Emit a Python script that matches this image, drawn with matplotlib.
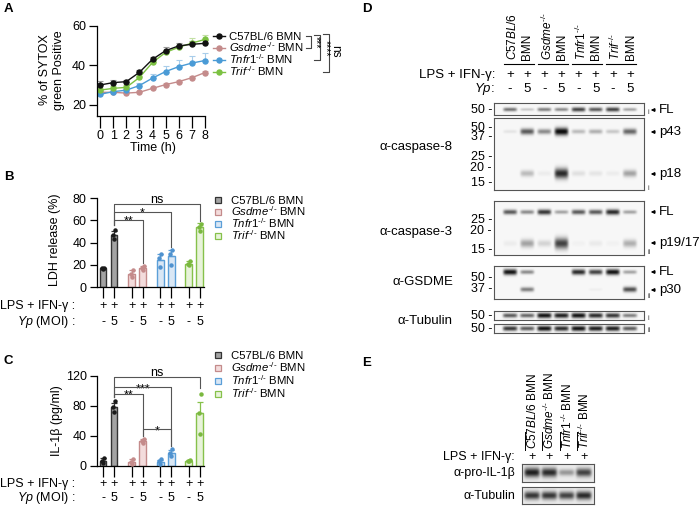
import numpy as np
import matplotlib
matplotlib.use('Agg')
import matplotlib.pyplot as plt
from matplotlib.lines import Line2D
from matplotlib.patches import Rectangle
import matplotlib.transforms as mtransforms

plt.rcParams['font.family'] = ['Liberation Sans', 'DejaVu Sans']
plt.rcParams['mathtext.fontset'] = 'custom'
plt.rcParams['mathtext.rm'] = 'Liberation Sans'
plt.rcParams['mathtext.it'] = 'Liberation Sans:italic'
plt.rcParams['mathtext.bf'] = 'Liberation Sans:bold'
plt.rcParams['axes.linewidth'] = 0.9

# ---------------- data ----------------
KO = r"^{\text{-/-}}"
genotypes = ["C57BL/6 BMN", r"$\mathit{Gsdme}" + KO + r"$ BMN",
             r"$\mathit{Tnfr1}" + KO + r"$ BMN", r"$\mathit{Trif}" + KO + r"$ BMN"]

# Panel A: SYTOX green positive (%)
time_h = [0, 1, 2, 3, 4, 5, 6, 7, 8]
sytox_c57 = [30.1, 31.3, 31.8, 36.5, 43.1, 47.5, 49.9, 50.7, 51.2]
sytox_gsdme = [26.4, 26.4, 26.0, 26.4, 28.4, 30.3, 31.8, 33.8, 36.4]
sytox_tnfr1 = [25.4, 26.7, 27.5, 29.8, 33.6, 36.9, 39.4, 41.2, 42.5]
sytox_trif = [27.5, 28.4, 28.9, 33.9, 41.5, 46.6, 49.2, 51.3, 53.2]
sytox_c57_err = [1.8, 1.2, 1.0, 1.0, 1.0, 1.6, 1.5, 1.8, 1.6]
sytox_gsdme_err = [0.6, 0.6, 0.6, 0.6, 0.8, 0.8, 0.8, 0.9, 1.0]
sytox_tnfr1_err = [0.8, 0.8, 0.8, 1.5, 2.2, 3.0, 3.4, 3.6, 4.0]
sytox_trif_err = [1.0, 1.0, 1.0, 1.0, 1.2, 1.4, 1.4, 2.4, 2.2]

# Panels B/C: conditions
lps_ifng = ["+", "+", "+", "+", "+", "+", "+", "+"]
yp_moi = ["-", "5", "-", "5", "-", "5", "-", "5"]

ldh_mean = [16.8, 47.0, 12.0, 17.0, 24.6, 27.6, 21.0, 53.6]
ldh_err = [0.5, 3.5, 3.5, 2.0, 5.0, 5.5, 2.5, 4.0]
ldh_pts = [[16.5, 17.0, 17.3], [43, 47, 51], [9, 12, 15], [15, 17, 19],
           [18, 26, 30], [20, 30, 33], [20, 21, 23], [50, 54, 57]]

il1b_mean = [6.2, 78.0, 5.4, 33.0, 5.4, 17.4, 6.7, 70.0]
il1b_err = [4.0, 6.0, 3.5, 3.0, 3.0, 4.5, 1.5, 15.0]
il1b_pts = [[4, 6, 10], [72, 78, 86], [3, 5, 9], [30, 33, 36],
            [3, 6, 9], [13, 17, 22], [6, 7, 8], [43, 70, 96]]

# Panel D: band intensities (0..1) per lane
casp8_fl = [0.55, 0.2, 0.5, 0.45, 0.75, 0.65, 0.75, 0.35]
casp8_p43 = [0.08, 0.65, 0.45, 1.0, 0.25, 0.3, 0.2, 0.6]
casp8_p18 = [0.0, 0.25, 0.05, 0.85, 0.1, 0.08, 0.05, 0.35]
casp3_fl = [0.65, 0.45, 0.8, 0.35, 0.65, 0.65, 0.85, 0.35]
casp3_p19 = [0.05, 0.35, 0.15, 0.75, 0.03, 0.06, 0.03, 0.3]
gsdme_fl = [0.95, 0.45, 0.0, 0.0, 0.85, 0.75, 0.95, 0.35]
gsdme_p30 = [0.0, 0.5, 0.0, 0.0, 0.0, 0.04, 0.0, 0.7]
tubulin_i = [0.65, 0.6, 0.95, 0.9, 0.95, 0.85, 0.8, 0.5]
tubulin_ii = [0.8, 0.65, 0.95, 0.85, 0.95, 0.9, 0.9, 0.65]
# Panel E
il1b_pro = [0.85, 0.8, 0.35, 0.7]
tubulin_e = [0.75, 0.75, 0.7, 0.8]

# ---------------- figure helpers ----------------
W, H = 700, 507
fig = plt.figure(figsize=(7, 5.07), dpi=100)
fig.patch.set_facecolor('white')


def fx(x):
    return x / W


def fy(y):
    return 1 - y / H


def add_ax(l, t, r, b):
    return fig.add_axes([l / W, 1 - b / H, (r - l) / W, (b - t) / H])


def ftext(x, y, s, **kw):
    return fig.text(fx(x), fy(y), s, **kw)


def fline(xs, ys, **kw):
    kw.setdefault('color', 'k')
    kw.setdefault('lw', 0.8)
    fig.add_artist(Line2D([fx(v) for v in xs], [fy(v) for v in ys],
                          transform=fig.transFigure, **kw))


def farrow(x_head, x_tail, y):
    fig.add_artist(matplotlib.patches.FancyArrowPatch(
        (fx(x_tail), fy(y)), (fx(x_head), fy(y)), transform=fig.transFigure,
        arrowstyle='-|>', mutation_scale=5, lw=0.8, color='k'))


# panel letters
for lab, (x, y) in zip("ABCDE", [(4, 9), (4, 177), (4, 361), (362, 9), (362, 363)]):
    ftext(x, y, lab, fontsize=9.5, fontweight='bold', va='center')

line_cols = ['#111111', '#c48b8b', '#4a9bd6', '#7cc142']
err_cols = ['#9a9a9a', '#dcc0c0', '#a9cdea', '#c3e0a4']

# ---------------- Panel A ----------------
axA = add_ax(97, 22, 208, 116)
series = [sytox_c57, sytox_gsdme, sytox_tnfr1, sytox_trif]
errs = [sytox_c57_err, sytox_gsdme_err, sytox_tnfr1_err, sytox_trif_err]
for idx in [1, 2, 3, 0]:
    axA.errorbar(time_h, series[idx], yerr=[np.zeros(len(time_h)), errs[idx]],
                 fmt='none', ecolor=err_cols[idx], elinewidth=0.8, capsize=2.5,
                 capthick=0.8, zorder=1)
    axA.plot(time_h, series[idx], '-o', color=line_cols[idx], ms=3.6, lw=1.0,
             zorder=2 + (idx == 0))
axA.set_xlim(-0.23, 8.23)
axA.set_ylim(14.4, 62)
axA.spines['top'].set_visible(False)
axA.spines['right'].set_visible(False)
axA.spines['left'].set_bounds(14.4, 60)
axA.spines['bottom'].set_bounds(-0.23, 8)
axA.set_yticks([20, 40, 60])
axA.set_xticks(time_h)
axA.tick_params(axis='y', length=5.5, width=0.9, labelsize=9, pad=2.5)
axA.tick_params(axis='x', length=8.5, width=0.9, labelsize=9, pad=1.5)
axA.set_xlabel('Time (h)', fontsize=9, labelpad=0)
ftext(52, 70, "% of SYTOX\ngreen Positive", fontsize=9, rotation=90,
      ha='center', va='center', multialignment='center')

for i, y in enumerate([36, 48, 60, 72]):
    fline([213, 225], [y, y], color=line_cols[i], lw=1.0)
    fig.add_artist(Line2D([fx(219)], [fy(y)], marker='o', ms=3.6,
                          color=line_cols[i], transform=fig.transFigure))
    ftext(229, y + 4, genotypes[i], fontsize=8.2, va='baseline')

gcol = '#444444'
fline([306, 311, 311, 306], [36, 36, 48, 48], color=gcol)
ftext(316, 42, "***", fontsize=7.5, rotation=270, ha='center', va='center')
fline([314, 320, 320, 314], [35, 35, 60, 60], color=gcol)
ftext(325.5, 48, "****", fontsize=7.5, rotation=270, ha='center', va='center')
fline([323, 329, 329, 323], [34, 34, 72, 72], color=gcol)
ftext(335.5, 51, "ns", fontsize=8.5, rotation=270, ha='center', va='center')

# ---------------- Panels B & C ----------------
bar_face = ['#a3a3a3', '#f3dcdc', '#d9e7f5', '#e8f3da']
bar_edge = ['#333333', '#c48b8b', '#5b9fd8', '#86c14a']
dot_col = ['#1a1a1a', '#c48b8b', '#4f92cf', '#7ab83f']
xpos = [g * 2.6 + k for g in range(4) for k in range(2)]


def bar_panel(top_px, bot_px, ymax, yticks, ytop_lim, means, errs_, pts,
              ylabel, ylabel_xy, row_y, legend_y, brackets):
    ax = add_ax(97, top_px, 207, bot_px)
    for i, x in enumerate(xpos):
        g = i // 2
        ax.bar(x, means[i], width=0.62, color=bar_face[g], edgecolor=bar_edge[g],
               linewidth=1.0, zorder=1)
        ax.errorbar(x, means[i], yerr=[[0], [errs_[i]]], fmt='none',
                    ecolor=bar_edge[g], elinewidth=0.9, capsize=2.2, capthick=0.9,
                    zorder=2)
        ax.plot(np.array([x, x - 0.1, x + 0.1]), pts[i], 'o', ms=2.2,
                color=dot_col[g], zorder=3, clip_on=False)
    ax.set_xlim(-0.55, 9.45)
    ax.set_ylim(0, ytop_lim)
    ax.spines['top'].set_visible(False)
    ax.spines['right'].set_visible(False)
    ax.spines['left'].set_bounds(0, ymax)
    ax.spines['bottom'].set_bounds(-0.55, 9.2)
    ax.set_yticks(yticks)
    ax.set_xticks(xpos)
    ax.set_xticklabels([])
    ax.tick_params(axis='y', length=5, width=0.9, labelsize=9, pad=2.5)
    ax.tick_params(axis='x', length=8, width=0.9)
    ftext(ylabel_xy[0], ylabel_xy[1], ylabel, fontsize=9, rotation=90,
          ha='center', va='center')
    tr = mtransforms.blended_transform_factory(ax.transData, fig.transFigure)
    for i, x in enumerate(xpos):
        ax.text(x, fy(row_y[0]), lps_ifng[i], transform=tr, ha='center',
                va='center', fontsize=9)
        ax.text(x, fy(row_y[1]), yp_moi[i], transform=tr, ha='center',
                va='center', fontsize=9)
    ftext(75, row_y[0], "LPS + IFN-γ :", fontsize=9, ha='right', va='center')
    ftext(75, row_y[1], r"$\mathit{Yp}$ (MOI) :", fontsize=9, ha='right', va='center')
    for i, y in enumerate(legend_y):
        fig.add_artist(Rectangle((fx(215), fy(y + 3)), 6 / W, 6 / H,
                                 facecolor=bar_face[i], edgecolor=bar_edge[i],
                                 lw=0.9, transform=fig.transFigure))
        ftext(231, y + 4, genotypes[i], fontsize=8.2, va='baseline')
    for x1, x2, y, yl, yr, txt in brackets:
        ax.plot([x1, x1, x2, x2], [yl, y, y, yr], color='#555555', lw=0.8,
                clip_on=False, zorder=4)
        off = 1.0 if txt == 'ns' else -3.5
        ax.annotate(txt, ((x1 + x2) / 2, y), xytext=(0, off),
                    textcoords='offset points', ha='center', va='baseline',
                    fontsize=9, annotation_clip=False)
    return ax


bar_panel(195, 287, 80, [0, 20, 40, 60, 80], 82.7, ldh_mean, ldh_err, ldh_pts,
          "LDH release (%)", (55, 240), (306, 322), [200, 212, 224, 236],
          [(1.0, 3.6, 60.2, 56, 22, '**'),
           (1.0, 6.2, 67.4, 56, 36, '*'),
           (1.0, 8.8, 74.6, 56, 59, 'ns')])

bar_panel(372, 466, 120, [0, 40, 80, 120], 125.3, il1b_mean, il1b_err, il1b_pts,
          "IL-1β (pg/ml)", (57, 421), (484, 498), [355, 368, 381, 394],
          [(1.0, 8.8, 118.7, 92, 104, 'ns'),
           (1.0, 6.2, 105.0, 92, 26, '***'),
           (1.0, 3.6, 96.0, 92, 40, '**'),
           (3.6, 6.2, 49.0, 40, 26, '*')])


# ---------------- blots ----------------
def draw_blot(l, t, r, b, lane0, step, bands, bg=0.03):
    ax = add_ax(l, t, r, b)
    x0 = (l - lane0) / step
    x1 = (r - lane0) / step
    xs = np.linspace(x0, x1, 400)
    ys = np.linspace(t, b, max(int((b - t) * 5), 30))
    X, Y = np.meshgrid(xs, ys)
    img = np.full(X.shape, bg)
    for yc, sy, vals, hw in bands:
        for i, v in enumerate(vals):
            s = sy * (0.6 + 0.8 * v)
            img += v * np.exp(-0.5 * ((Y - yc) / s) ** 2) * \
                np.exp(-(np.abs(X - i) / hw) ** 6)
    ax.imshow(np.clip(img, 0, 1), cmap='gray_r', vmin=0, vmax=1.05,
              extent=[x0, x1, b, t], aspect='auto', interpolation='bilinear')
    ax.set_xlim(x0, x1)
    ax.set_ylim(b, t)
    ax.set_xticks([])
    ax.set_yticks([])
    for s in ax.spines.values():
        s.set_color('#555555')
        s.set_linewidth(0.8)
    return ax


L0, STEP = 510, 17.15
BL, BR = 494, 644
draw_blot(BL, 103, BR, 115, L0, STEP, [(109.5, 1.3, casp8_fl, 0.4)])
draw_blot(BL, 118, BR, 190, L0, STEP, [(131.5, 1.9, casp8_p43, 0.4),
                                       (173.5, 2.8, casp8_p18, 0.4)])
draw_blot(BL, 201, BR, 255, L0, STEP, [(212, 1.5, casp3_fl, 0.4),
                                       (243.5, 3.2, casp3_p19, 0.4)])
draw_blot(BL, 266, BR, 299, L0, STEP, [(272, 1.5, gsdme_fl, 0.4),
                                       (289.5, 1.6, gsdme_p30, 0.4)])
draw_blot(BL, 311, BR, 320, L0, STEP, [(315.5, 1.4, tubulin_i, 0.42)])
draw_blot(BL, 324, BR, 333, L0, STEP, [(328.5, 1.4, tubulin_ii, 0.42)])

lanesD = [L0 + STEP * i for i in range(8)]
headersD = [r"$\mathit{C57BL/6}$" + "\nBMN", r"$\mathit{Gsdme}" + KO + "$\nBMN",
            r"$\mathit{Tnfr1}" + KO + "$\nBMN", r"$\mathit{Trif}" + KO + "$\nBMN"]
for g in range(4):
    xc = (lanesD[2 * g] + lanesD[2 * g + 1]) / 2
    ftext(xc + 1, 60, headersD[g], fontsize=8.5, rotation=90, ha='center',
          va='bottom', multialignment='left', linespacing=1.15)
    fline([xc - 15, xc + 15], [63.5, 63.5], lw=0.8)
for i, x in enumerate(lanesD):
    ftext(x, 75, lps_ifng[i], fontsize=9.5, ha='center', va='center')
    ftext(x, 89, yp_moi[i], fontsize=9.5, ha='center', va='center')
ftext(495, 75, "LPS + IFN-γ:", fontsize=9.5, ha='right', va='center')
ftext(495, 89, r"$\mathit{Yp}$:", fontsize=9.5, ha='right', va='center')

for y, lab in [(110, '50'), (128, '50'), (137.5, '37'), (157, '25'), (168, '20'),
               (183, '15'), (220, '25'), (231, '20'), (250, '15'), (278, '50'),
               (288.5, '37'), (316, '50'), (328.5, '50')]:
    ftext(492, y, lab + " -", fontsize=9, ha='right', va='center')

for y, lab in [(147, "α-caspase-8"), (232, "α-caspase-3"), (282, "α-GSDME"),
               (321, "α-Tubulin")]:
    ftext(453, y, lab, fontsize=9.5, ha='right', va='center')

for y, lab in [(110, 'FL'), (132, 'p43'), (174, 'p18'), (212, 'FL'),
               (243, 'p19/17'), (272, 'FL'), (290, 'p30')]:
    farrow(648, 658, y)
    ftext(659, y, lab, fontsize=9.5, ha='left', va='center')

for y, lab in [(113, 'i'), (188, 'i'), (252, 'ii'), (296, 'ii'), (318, 'i'),
               (331, 'ii')]:
    ftext(647, y, lab, fontsize=5, ha='left', va='center', color='#333333')

# ---------------- Panel E ----------------
LE0, STEPE = 532, 17.3
draw_blot(522, 464, 594, 482, LE0, STEPE, [(472.5, 2.6, il1b_pro, 0.45)], bg=0.08)
draw_blot(522, 487, 594, 504, LE0, STEPE, [(495.5, 2.4, tubulin_e, 0.45)], bg=0.08)
lanesE = [LE0 + STEPE * i for i in range(4)]
headersE = [r"$\mathit{C57BL/6}$ BMN", r"$\mathit{Gsdme}" + KO + r"$ BMN",
            r"$\mathit{Tnfr1}" + KO + r"$ BMN", r"$\mathit{Trif}" + KO + r"$ BMN"]
for i, x in enumerate(lanesE):
    fline([x - 7, x - 7], [432, 450], lw=0.7)
    ftext(x + 0.5, 449, headersE[i], fontsize=8.5, rotation=90, ha='center',
          va='bottom')
    ftext(x, 457, "+", fontsize=9, ha='center', va='center')
ftext(515, 457, "LPS + IFN-γ:", fontsize=9, ha='right', va='center')
ftext(515, 473, "α-pro-IL-1β", fontsize=9, ha='right', va='center')
ftext(515, 496, "α-Tubulin", fontsize=9, ha='right', va='center')

fig.savefig('out.png', dpi=100)
